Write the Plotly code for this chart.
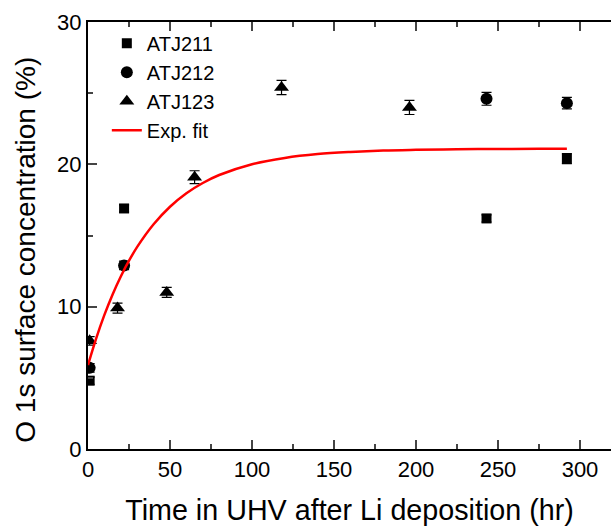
import plotly.graph_objects as go

# ---- data ----
atj211_x = [1, 22, 243, 292]
atj211_y = [4.8, 16.9, 16.2, 20.4]
atj211_err = [0.25, 0.25, 0.25, 0.35]

atj212_x = [1, 22, 243, 292]
atj212_y = [5.7, 12.9, 24.6, 24.3]
atj212_err = [0.3, 0.3, 0.45, 0.4]

atj123_x = [1, 18, 48, 65, 118, 196]
atj123_y = [7.6, 9.9, 11.0, 19.1, 25.4, 24.0]
atj123_err = [0.3, 0.35, 0.35, 0.45, 0.5, 0.5]

fit_x = [0, 5, 10, 15, 20, 25, 30, 40, 50, 60, 70, 80, 100, 120, 140, 160, 180, 200, 225, 250, 275, 292]
fit_y = [5.9, 7.77, 9.42, 10.86, 12.12, 13.23, 14.2, 15.79, 17.02, 17.97, 18.69, 19.25,
         20.01, 20.45, 20.72, 20.87, 20.97, 21.02, 21.06, 21.08, 21.09, 21.1]

x_ticks = [0, 50, 100, 150, 200, 250, 300]
y_ticks = [0, 10, 20, 30]

FONT = "Liberation Sans, Arial, sans-serif"

fig = go.Figure()

def err(arr):
    return dict(type="data", array=arr, visible=True, color="black", thickness=1.2, width=5)

fig.add_trace(go.Scatter(x=atj211_x, y=atj211_y, mode="markers", name="ATJ211",
                         marker=dict(symbol="square", size=10, color="black"),
                         error_y=err(atj211_err)))
fig.add_trace(go.Scatter(x=atj212_x, y=atj212_y, mode="markers", name="ATJ212",
                         marker=dict(symbol="circle", size=12, color="black"),
                         error_y=err(atj212_err)))
fig.add_trace(go.Scatter(x=atj123_x, y=atj123_y, mode="markers", name="ATJ123",
                         marker=dict(symbol="triangle-up", size=13, color="black"),
                         error_y=err(atj123_err)))
fig.add_trace(go.Scatter(x=fit_x, y=fit_y, mode="lines", name="Exp. fit",
                         line=dict(color="#ff0000", width=2.5, shape="spline")))

fig.update_layout(
    width=611, height=526,
    margin=dict(l=88, r=0, t=22, b=75),
    paper_bgcolor="white", plot_bgcolor="white",
    font=dict(family=FONT, color="black"),
    showlegend=True,
    legend=dict(x=0.036, y=0.996, xanchor="left", yanchor="top",
                bgcolor="rgba(0,0,0,0)", font=dict(size=20, family=FONT),
                tracegroupgap=0),
    xaxis=dict(range=[0, 318.9], tickvals=x_ticks, ticks="inside", ticklen=9, tickwidth=2,
               showline=True, linewidth=2, linecolor="black", mirror="ticks",
               showgrid=False, zeroline=False,
               minor=dict(dtick=25, tick0=0, ticks="inside", ticklen=5, tickwidth=2),
               tickfont=dict(size=22, family=FONT),
               title=dict(text="Time in UHV after Li deposition (hr)", font=dict(size=28.7, family=FONT), standoff=24)),
    yaxis=dict(range=[0, 30], tickvals=y_ticks, ticks="inside", ticklen=9, tickwidth=2,
               showline=True, linewidth=2, linecolor="black", mirror=False,
               showgrid=False, zeroline=False,
               minor=dict(dtick=5, tick0=0, ticks="inside", ticklen=5, tickwidth=2),
               tickfont=dict(size=22, family=FONT)),
    annotations=[dict(text="O 1s surface concentration (%)", textangle=-90,
                      xref="paper", yref="paper", x=-0.121, y=0.466,
                      xanchor="center", yanchor="middle", showarrow=False,
                      font=dict(size=28, family=FONT))],
)

fig.write_html("out.html")
